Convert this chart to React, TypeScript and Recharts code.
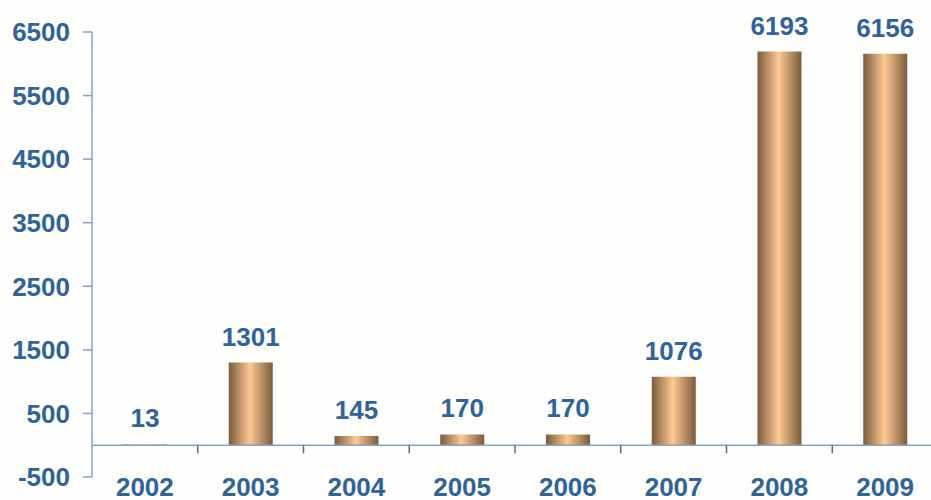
import React from "react";
import {
  BarChart,
  Bar,
  XAxis,
  YAxis,
  LabelList,
  ReferenceLine,
} from "recharts";

// Datos del gráfico
const years = ["2002", "2003", "2004", "2005", "2006", "2007", "2008", "2009"];
const values = [13, 1301, 145, 170, 170, 1076, 6193, 6156];
const yTicks = [-500, 500, 1500, 2500, 3500, 4500, 5500, 6500];

const data = years.map((year, i) => ({ year, value: values[i] }));

const TEXT = "#2f6399";
const AXIS = "#86a2c4";
const TICK = "#4a6f9f";
const FONT = "'Liberation Sans', Arial, sans-serif";

const YearTick = (props: any) => {
  const { x, payload } = props;
  return (
    <text
      x={x}
      y={496}
      textAnchor="middle"
      fill={TEXT}
      fontSize={26}
      fontWeight="bold"
      fontFamily={FONT}
    >
      {payload.value}
    </text>
  );
};

// línea del eje en y=0 con marcas entre categorías
const ZeroAxis = (props: any) => {
  const { x1, x2, y1 } = props;
  const band = (x2 - x1) / years.length;
  return (
    <g>
      <line x1={x1} x2={x2} y1={y1} y2={y1} stroke={AXIS} strokeWidth={1.5} />
      {years.slice(1).map((_, i) => (
        <line
          key={`t-${i}`}
          x1={x1 + band * (i + 1)}
          x2={x1 + band * (i + 1)}
          y1={y1}
          y2={y1 + 8}
          stroke={TICK}
          strokeWidth={1.5}
        />
      ))}
    </g>
  );
};

const App: React.FC = (): JSX.Element => {
  return (
    <div
      style={{
        position: "absolute",
        left: 0,
        top: 0,
        width: 931,
        height: 500,
        overflow: "hidden",
        background: "#fefefc",
        fontFamily: FONT,
      }}
    >
      <BarChart
        width={938}
        height={500}
        data={data}
        margin={{ top: 32, right: 0, left: 0, bottom: 0 }}
      >
        <defs>
          <linearGradient id="barGrad" x1="0" y1="0" x2="1" y2="0">
            <stop offset="0%" stopColor="#7a5b3e" />
            <stop offset="48%" stopColor="#ffc891" />
            <stop offset="100%" stopColor="#7a5b3e" />
          </linearGradient>
        </defs>
        <XAxis
          dataKey="year"
          height={23}
          axisLine={false}
          tickLine={false}
          interval={0}
          tick={<YearTick />}
        />
        <YAxis
          width={92}
          domain={[-500, 6500]}
          ticks={yTicks}
          interval={0}
          tickSize={9}
          tickMargin={13}
          axisLine={{ stroke: AXIS, strokeWidth: 1.5 }}
          tickLine={{ stroke: AXIS, strokeWidth: 1.5 }}
          tick={{
            fill: TEXT,
            fontSize: 26,
            fontWeight: "bold",
            fontFamily: FONT,
          }}
        />
        <ReferenceLine y={0} shape={ZeroAxis} />
        <Bar
          dataKey="value"
          fill="url(#barGrad)"
          barSize={44}
          isAnimationActive={false}
        >
          <LabelList
            dataKey="value"
            position="top"
            offset={17}
            fill={TEXT}
            fontSize={26}
            fontWeight="bold"
            fontFamily={FONT}
          />
        </Bar>
      </BarChart>
    </div>
  );
};

export default App;
